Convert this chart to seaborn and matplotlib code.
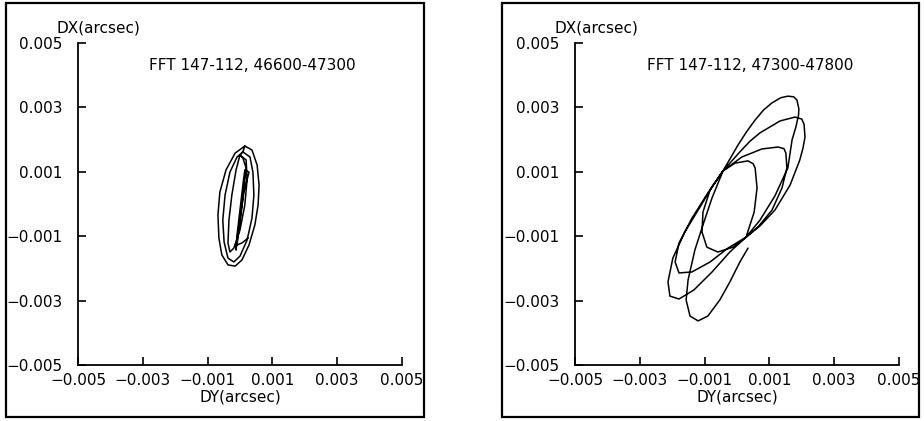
import numpy as np
import pandas as pd
import matplotlib
matplotlib.use("Agg")
import matplotlib.pyplot as plt
from matplotlib.patches import Rectangle
from matplotlib.ticker import FuncFormatter
import seaborn as sns

# tick positions (arcsec)
ticks = [-0.005, -0.003, -0.001, 0.001, 0.003, 0.005]
titles = ["FFT 147-112, 46600-47300", "FFT 147-112, 47300-47800"]

# left panel trace (arcsec)
dy_left = [0.00015, 0.00037, 0.00053, 0.00059, 0.00056, 0.00046, 0.00028, 0.00006, -0.00015,
           -0.00037, -0.00056, -0.00065, -0.00068, -0.00062, -0.00043, -0.00015, 0.00015,
           0.00009, 0.00031, 0.00040, 0.00043, 0.00037, 0.00022, 0.00000, -0.00019,
           -0.00037, -0.00049, -0.00053, -0.00046, -0.00031, -0.00009, 0.00009,
           0.00000, 0.00019, 0.00022, 0.00015, 0.00000, -0.00019, -0.00031, -0.00037,
           -0.00034, -0.00025, -0.00012, 0.00000,
           0.00009, 0.00019, 0.00012, 0.00003, -0.00006, -0.00012, -0.00009, 0.00000,
           0.00009, 0.00015, 0.00028, 0.00012, 0.00000, -0.00009, 0.00006, 0.00025]
dx_left = [0.00180, 0.00168, 0.00121, 0.00059, -0.00003, -0.00065, -0.00127, -0.00174, -0.00193,
           -0.00189, -0.00158, -0.00106, -0.00034, 0.00037, 0.00106, 0.00158, 0.00180,
           0.00162, 0.00146, 0.00099, 0.00028, -0.00044, -0.00112, -0.00162, -0.00180,
           -0.00168, -0.00118, -0.00050, 0.00028, 0.00099, 0.00146, 0.00162,
           0.00152, 0.00137, 0.00075, -0.00003, -0.00081, -0.00137, -0.00149, -0.00121,
           -0.00050, 0.00028, 0.00106, 0.00152,
           0.00143, 0.00112, 0.00044, -0.00025, -0.00087, -0.00143, -0.00096, -0.00019,
           0.00059, 0.00106, 0.00099, 0.00037, -0.00056, -0.00127, -0.00121, -0.00106]

# right panel trace (arcsec)
dy_right = [0.00034, 0.00009, -0.00022, -0.00053, -0.00090, -0.00120, -0.00145, -0.00157,
            -0.00151, -0.00130, -0.00105, -0.00077, -0.00043,
            0.00003, 0.00030, 0.00056, 0.00082, 0.00108, 0.00135, 0.00157, 0.00175, 0.00185,
            0.00191, 0.00190, 0.00182, 0.00170, 0.00157, 0.00117, 0.00071, 0.00028,
            -0.00022, -0.00077, -0.00133, -0.00179, -0.00207, -0.00213, -0.00198, -0.00161,
            -0.00114, -0.00077, -0.00043,
            0.00009, 0.00040, 0.00071, 0.00133, 0.00179, 0.00200, 0.00207, 0.00210, 0.00204,
            0.00194, 0.00164, 0.00117, 0.00071, 0.00028,
            -0.00028, -0.00083, -0.00139, -0.00179, -0.00191, -0.00179, -0.00139, -0.00090,
            -0.00043,
            0.00015, 0.00077, 0.00127, 0.00145, 0.00151, 0.00154, 0.00139, 0.00108, 0.00065,
            0.00028,
            -0.00012, -0.00059, -0.00093, -0.00108, -0.00105, -0.00083, -0.00043,
            -0.00006, 0.00034, 0.00050, 0.00056, 0.00062, 0.00053, 0.00037, 0.00028]
dx_right = [-0.00137, -0.00180, -0.00242, -0.00298, -0.00348, -0.00363, -0.00348, -0.00298,
            -0.00236, -0.00143, -0.00065, 0.00019, 0.00103,
            0.00183, 0.00225, 0.00261, 0.00292, 0.00314, 0.00330, 0.00335, 0.00333, 0.00323,
            0.00296, 0.00276, 0.00240, 0.00199, 0.00112, 0.00025, -0.00050, -0.00103,
            -0.00149, -0.00211, -0.00267, -0.00295, -0.00286, -0.00242, -0.00168, -0.00087,
            -0.00009, 0.00053, 0.00103,
            0.00162, 0.00195, 0.00221, 0.00258, 0.00270, 0.00264, 0.00248, 0.00208, 0.00175,
            0.00137, 0.00059, -0.00019, -0.00068, -0.00103,
            -0.00137, -0.00180, -0.00211, -0.00214, -0.00180, -0.00121, -0.00044, 0.00034,
            0.00103,
            0.00146, 0.00171, 0.00177, 0.00172, 0.00158, 0.00112, 0.00050, -0.00019, -0.00071,
            -0.00103,
            -0.00134, -0.00149, -0.00134, -0.00087, -0.00025, 0.00044, 0.00103,
            0.00127, 0.00134, 0.00125, 0.00112, 0.00050, -0.00025, -0.00075, -0.00103]

sns.set_style("ticks")
plt.rcParams['font.family'] = ['DejaVu Sans']
plt.rcParams['font.size'] = 11
plt.rcParams['text.color'] = 'black'
plt.rcParams['axes.labelcolor'] = 'black'
plt.rcParams['xtick.color'] = 'black'
plt.rcParams['ytick.color'] = 'black'
plt.rcParams['axes.edgecolor'] = 'black'


def fmt(v, pos):
    return f"{v:.3f}".replace("-", "\u2212")


fig = plt.figure(figsize=(9.24, 4.21), dpi=100)
fig.patch.set_facecolor("white")

# outer boxes around each panel
for x0, w in [(0.0065, 0.4524), (0.5433, 0.4513)]:
    fig.patches.append(Rectangle((x0, 0.0095), w, 0.9834, transform=fig.transFigure,
                                 fill=False, edgecolor="black", linewidth=1.6))

panels = [(0.0844, dy_left, dx_left, titles[0], 0.539, 0.063),
          (0.6223, dy_right, dx_right, titles[1], 0.540, 0.066)]

for left, dy, dx, title, tx, lx in panels:
    ax = fig.add_axes([left, 0.1330, 0.3506, 0.7648])
    df = pd.DataFrame({"DY": dy, "DX": dx})
    sns.lineplot(data=df, x="DY", y="DX", sort=False, estimator=None, color="black",
                 linewidth=1.1, ax=ax)
    ax.set_xlim(-0.005, 0.005)
    ax.set_ylim(-0.005, 0.005)
    ax.set_xticks(ticks)
    ax.set_yticks(ticks)
    ax.xaxis.set_major_formatter(FuncFormatter(fmt))
    ax.yaxis.set_major_formatter(FuncFormatter(fmt))
    ax.tick_params(direction="in", length=6, width=1.2, labelsize=11, colors="black")
    ax.tick_params(axis="y", pad=11)
    ax.tick_params(axis="x", pad=6)
    for s in ["top", "right"]:
        ax.spines[s].set_visible(False)
    for s in ["left", "bottom"]:
        ax.spines[s].set_linewidth(1.3)
        ax.spines[s].set_color("black")
    ax.set_xlabel("DY(arcsec)", fontsize=11, labelpad=1, color="black")
    ax.set_ylabel("")
    ax.text(lx, 1.047, "DX(arcsec)", transform=ax.transAxes, ha="center", va="center",
            fontsize=11, color="black")
    ax.text(tx, 0.93, title, transform=ax.transAxes, ha="center", va="center", fontsize=11,
            color="black")

fig.savefig("out.png", dpi=100)
